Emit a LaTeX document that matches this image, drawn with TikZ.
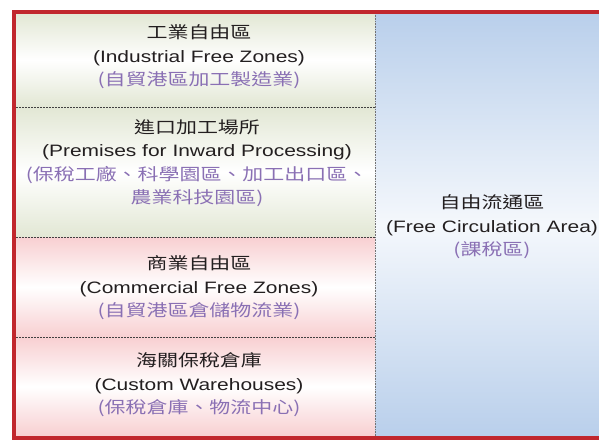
\documentclass[tikz,border=0pt]{standalone}
\usepackage{fontspec}
\setmainfont{Liberation Sans}[FakeStretch=1.27]
\newfontfamily\cjk{Noto Sans CJK TC}[FakeStretch=1.27]
\definecolor{zonered}{HTML}{C1272D}
\definecolor{zonegreen}{HTML}{E2E7D4}
\definecolor{zonepink}{HTML}{F8CFD1}
\definecolor{zoneblue}{HTML}{B9CFEB}
\definecolor{zonepurple}{HTML}{8A70B4}
\definecolor{zonetext}{HTML}{231F20}
\newcommand{\zonesub}[1]{{\color{zonepurple}\cjk #1}}
\begin{document}
\begin{tikzpicture}[x=1pt,y=-1pt,
  zone/.style={align=center,text=zonetext,font=\fontsize{16.5}{23.5}\selectfont},
  divider/.style={draw=black!75,line width=0.7pt,dash pattern=on 2pt off 1pt}]
  \useasboundingbox (0,0) rectangle (599,440);
  \shade[top color=zonegreen,bottom color=zonegreen,middle color=white] (16,13) rectangle (375,107);
  \shade[top color=zonegreen,bottom color=zonegreen,middle color=white] (16,107) rectangle (375,237);
  \shade[top color=zonepink,bottom color=zonepink,middle color=white] (16,237) rectangle (375,337);
  \shade[top color=zonepink,bottom color=zonepink,middle color=white] (16,337) rectangle (375,436);
  \shade[top color=zoneblue,bottom color=zoneblue,middle color=zoneblue!15] (375,13) rectangle (610,436);
  \draw[divider] (16,107) -- (375,107);
  \draw[divider] (16,237) -- (375,237);
  \draw[divider] (16,337) -- (375,337);
  \draw[divider,draw=black!55,dash pattern=on 1pt off 0.6pt] (375,13) -- (375,436);
  \draw[zonered,line width=4pt] (14,11.5) rectangle (620,438);
  \node[zone] (ifz) at (199,57) {{\cjk 工業自由區}\\(Industrial Free Zones)\\\zonesub{(自貿港區加工製造業)}};
  \node[zone] (pip) at (197,163) {{\cjk 進口加工場所}\\(Premises for Inward Processing)\\\zonesub{(保稅工廠、科學園區、加工出口區、}\\\zonesub{農業科技園區)}};
  \node[zone] (cfz) at (199,288) {{\cjk 商業自由區}\\(Commercial Free Zones)\\\zonesub{(自貿港區倉儲物流業)}};
  \node[zone] (cw) at (199,385) {{\cjk 海關保稅倉庫}\\(Custom Warehouses)\\\zonesub{(保稅倉庫、物流中心)}};
  \node[zone] (fca) at (492,227) {{\cjk 自由流通區}\\(Free Circulation Area)\\\zonesub{(課稅區)}};
\end{tikzpicture}
\end{document}
